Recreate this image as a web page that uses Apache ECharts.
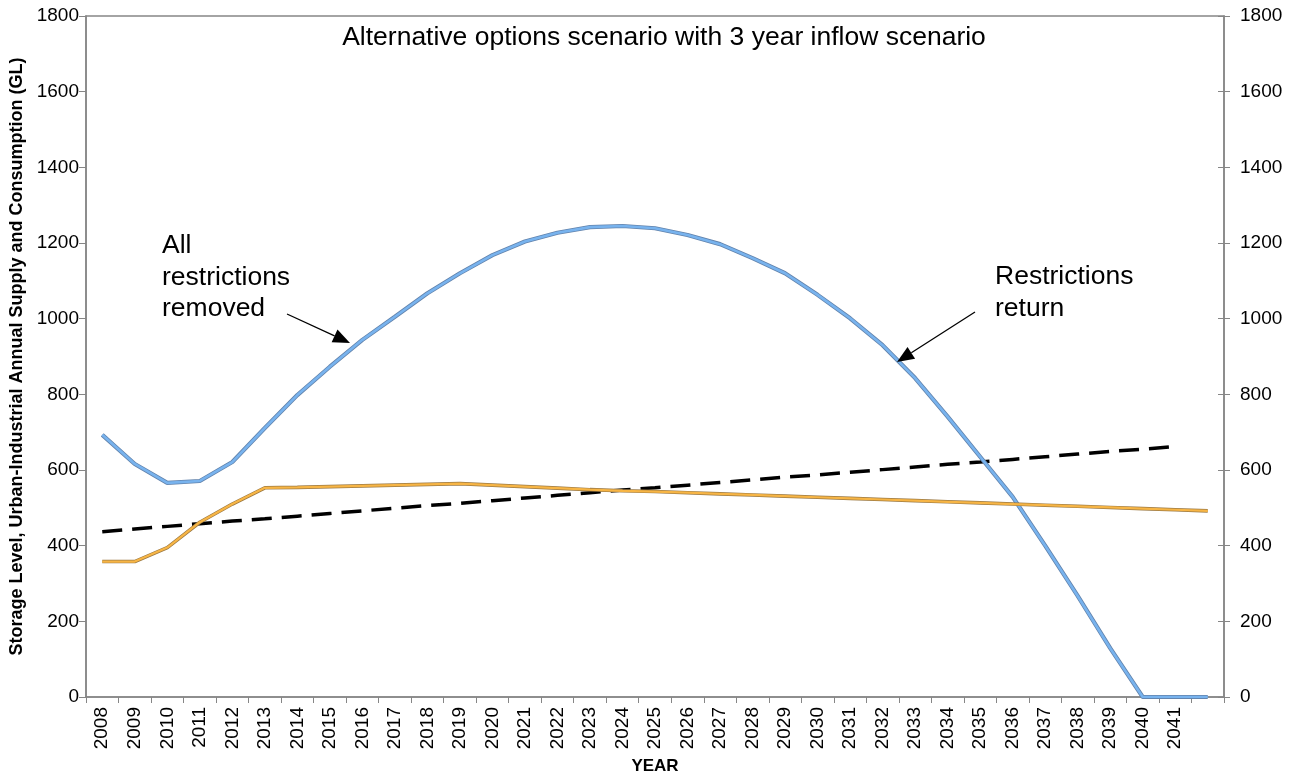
<!DOCTYPE html>
<html><head><meta charset="utf-8">
<script src="https://cdn.jsdelivr.net/npm/echarts@6/dist/echarts.min.js"></script>
<style>html,body{margin:0;padding:0;background:#fff}#c{width:1299px;height:775px}</style>
</head><body><div id="c"></div>
<script>
const years = ['2008','2009','2010','2011','2012','2013','2014','2015','2016','2017','2018','2019','2020','2021','2022','2023','2024','2025','2026','2027','2028','2029','2030','2031','2032','2033','2034','2035','2036','2037','2038','2039','2040','2041',''];
const storage = [693,616,566,571,621,711,798,873,944,1005,1067,1120,1168,1204,1227,1242,1245,1239,1221,1197,1160,1120,1063,1001,930,843,741,635,529,400,267,129,0,0,0];
const supply = [358,358,395,462,510,553,554,556,558,560,562,564,560,556,552,548,545,543,540,537,534,531,528,525,522,519,516,513,510,507,504,501,498,495,492];
const consumption = [437,444,451,458,465,471,478,485,492,499,506,512,519,526,533,540,547,553,560,567,574,581,587,594,601,608,615,621,628,635,642,649,655,662,'-'];
const yTicks = [0,200,400,600,800,1000,1200,1400,1600,1800];

const FONT = "'Liberation Sans', Arial, sans-serif";
const chart = echarts.init(document.getElementById('c'), null, {renderer:'canvas'});

function arrow(x1,y1,x2,y2){
  const dx=x2-x1, dy=y2-y1, L=Math.hypot(dx,dy), ux=dx/L, uy=dy/L;
  const hl=17, hw=7;
  const bx=x2-ux*hl, by=y2-uy*hl;
  return [
    {type:'line', shape:{x1:x1,y1:y1,x2:bx,y2:by}, style:{stroke:'#000',lineWidth:1.3}, z:100},
    {type:'polygon', shape:{points:[[x2,y2],[bx-uy*hw,by+ux*hw],[bx+uy*hw,by-ux*hw]]}, style:{fill:'#000'}, z:100}
  ];
}

const axisCommon = {
  type:'value', min:yTicks[0], max:yTicks[yTicks.length-1], interval:yTicks[1]-yTicks[0],
  splitLine:{show:false},
  axisLine:{show:true, lineStyle:{color:'#868686', width:1.5}},
  axisLabel:{color:'#000', fontSize:19, fontFamily:FONT, formatter:(v)=>String(v)},
};

chart.setOption({
  animation:false,
  backgroundColor:'#fff',
  grid:{left:86, right:75, top:16, bottom:78, containLabel:false, outerBoundsMode:'none', show:true, borderColor:'#868686', borderWidth:1.5},
  xAxis:{
    type:'category', data:years, boundaryGap:true,
    name:'YEAR', nameLocation:'middle', nameGap:61,
    nameTextStyle:{fontSize:17, fontWeight:'bold', color:'#000', fontFamily:FONT},
    axisLine:{lineStyle:{color:'#868686', width:1.5}},
    axisTick:{show:true, interval:0, length:6, lineStyle:{color:'#868686'}},
    axisLabel:{interval:0, rotate:90, fontSize:19, color:'#000', fontFamily:FONT, margin:10}
  },
  yAxis:[
    Object.assign({}, axisCommon, {
      position:'left',
      name:'Storage Level, Urban-Industrial Annual Supply and Consumption (GL)',
      nameLocation:'middle', nameGap:60,
      nameTextStyle:{fontSize:18, fontWeight:'bold', color:'#000', fontFamily:FONT},
      axisTick:{show:true, length:7, lineStyle:{color:'#868686'}},
      axisLabel:Object.assign({}, axisCommon.axisLabel, {margin:7})
    }),
    Object.assign({}, axisCommon, {
      position:'right',
      axisTick:{show:true, length:6, lineStyle:{color:'#868686'}},
      axisLabel:Object.assign({}, axisCommon.axisLabel, {margin:16})
    }),
    Object.assign({}, axisCommon, {
      position:'right',
      axisLine:{show:false},
      axisTick:{show:true, inside:true, length:6, lineStyle:{color:'#868686'}},
      axisLabel:{show:false}
    })
  ],
  series:[
    {name:'Consumption', type:'line', data:consumption, yAxisIndex:0, symbol:'none', z:3,
      lineStyle:{color:'#000', width:3.5, type:[20,10]}},
    {name:'Storage shadow', type:'line', data:storage, symbol:'none', z:4,
      lineStyle:{color:'#6283ac', width:4.2}},
    {name:'Storage', type:'line', data:storage, symbol:'none', z:5,
      lineStyle:{color:'#78b3ee', width:2.6}},
    {name:'Supply shadow', type:'line', data:supply, symbol:'none', z:6,
      lineStyle:{color:'#9c7a44', width:3.6}},
    {name:'Supply', type:'line', data:supply, symbol:'none', z:7,
      lineStyle:{color:'#f7b545', width:2.2}}
  ],
  graphic:[
    {type:'text', x:664, y:38, style:{text:'Alternative options scenario with 3 year inflow scenario', font:'26.5px '+FONT, fill:'#000', textAlign:'center', textVerticalAlign:'middle'}, z:100},
    {type:'text', x:162, y:230, style:{text:'All\nrestrictions\nremoved', font:'26.5px '+FONT, fill:'#000', lineHeight:31.5}, z:100},
    {type:'text', x:995, y:261, style:{text:'Restrictions\nreturn', font:'26.5px '+FONT, fill:'#000', lineHeight:31.5}, z:100}
  ].concat(arrow(287,314,350,343)).concat(arrow(975,312,897,362))
});
</script></body></html>
